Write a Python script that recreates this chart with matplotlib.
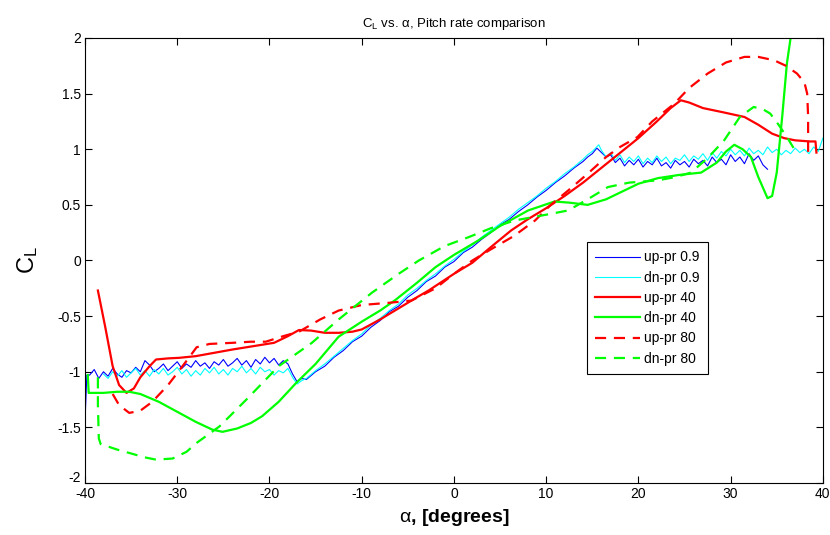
import numpy as np
import matplotlib
matplotlib.use('Agg')
import matplotlib.pyplot as plt
import matplotlib.transforms as mtransforms

plt.rcParams['font.family'] = ['Liberation Sans', 'DejaVu Sans']
plt.rcParams['axes.unicode_minus'] = False
plt.rcParams['mathtext.fontset'] = 'custom'
plt.rcParams['mathtext.rm'] = 'Liberation Sans'
plt.rcParams['mathtext.it'] = 'Liberation Sans'

# ---- up-pr 0.9 (blue) ----
blue_start_x = [-40.0, -39.8]
blue_start_y = [-1.45, -1.03]
blue_left_x = np.arange(-39.5, -17.75, 0.5)
blue_left_y = [-1.03, -0.98, -1.06, -1.00, -1.04, -0.97, -1.02, -1.05, -0.99, -1.01,
               -0.96, -1.00, -0.90, -0.94, -1.00, -0.97, -0.93, -0.99, -0.95, -0.91,
               -0.97, -0.93, -0.96, -0.90, -0.95, -0.92, -0.97, -0.91, -0.94, -0.89,
               -0.95, -0.92, -0.88, -0.94, -0.90, -0.96, -0.89, -0.93, -0.87, -0.92,
               -0.88, -0.94, -0.90, -0.93]
blue_mid_x = [-17.5, -17, -16.5, -16, -15, -14, -13, -12, -11, -10, -9, -8, -7, -6, -5, -4,
              -3, -2, -1, 0, 1, 2, 3, 4, 5, 6, 7, 8, 9, 10, 11, 12, 13, 14, 14.5, 15, 15.5,
              16, 16.5, 17]
blue_mid_y = [-1.02, -1.09, -1.06, -1.07, -1.00, -0.95, -0.87, -0.81, -0.73, -0.68, -0.60,
              -0.54, -0.46, -0.41, -0.33, -0.27, -0.19, -0.14, -0.06, -0.01, 0.07, 0.12,
              0.19, 0.25, 0.32, 0.37, 0.44, 0.50, 0.57, 0.63, 0.70, 0.76, 0.83, 0.89, 0.93,
              0.96, 1.01, 0.97, 0.93, 0.95]
blue_right_x = np.arange(17.5, 34.25, 0.5)
blue_right_y = [0.88, 0.92, 0.85, 0.90, 0.86, 0.91, 0.84, 0.89, 0.86, 0.92,
                0.85, 0.88, 0.83, 0.90, 0.86, 0.89, 0.84, 0.91, 0.87, 0.90,
                0.85, 0.93, 0.88, 0.91, 0.86, 0.95, 0.89, 0.93, 0.87, 0.96,
                0.90, 0.94, 0.86, 0.82]

# ---- dn-pr 0.9 (cyan) ----
cyan_left_x = np.arange(-38.0, -17.75, 0.5)
cyan_left_y = [-1.02, -1.06, -1.00, -1.04, -0.99, -1.05, -1.01, -0.97, -1.03, -0.99,
               -1.04, -0.98, -1.02, -0.97, -1.03, -1.00, -0.96, -1.02, -0.98, -1.04,
               -0.99, -1.03, -0.97, -1.01, -0.96, -1.02, -0.98, -1.03, -0.97, -1.00,
               -0.95, -1.01, -0.97, -1.02, -0.96, -1.00, -0.98, -1.03, -0.99, -1.01,
               -0.97]
cyan_mid_x = [-17.5, -17, -16.5, -16, -15, -14, -13, -12, -11, -10, -9, -8, -7, -6, -5, -4,
              -3, -2, -1, 0, 1, 2, 3, 4, 5, 6, 7, 8, 9, 10, 11, 12, 13, 14, 14.5, 15, 15.7]
cyan_mid_y = [-1.05, -1.11, -1.08, -1.06, -0.99, -0.93, -0.86, -0.79, -0.72, -0.66, -0.58,
              -0.52, -0.45, -0.39, -0.31, -0.25, -0.18, -0.12, -0.05, 0.01, 0.08, 0.14,
              0.21, 0.27, 0.33, 0.39, 0.46, 0.52, 0.58, 0.65, 0.71, 0.78, 0.84, 0.91, 0.95,
              0.98, 1.04]
cyan_right_x = np.arange(16.0, 40.25, 0.5)
cyan_right_y = [0.99, 0.93, 0.97, 0.90, 0.95, 0.88, 0.93, 0.89, 0.94, 0.87,
                0.92, 0.88, 0.94, 0.89, 0.93, 0.87, 0.92, 0.90, 0.95, 0.89,
                0.94, 0.91, 0.96, 0.90, 0.97, 0.92, 0.98, 0.94, 1.00, 0.95,
                0.99, 0.94, 1.01, 0.96, 0.99, 0.95, 1.02, 0.97, 1.00, 0.95,
                0.99, 0.96, 1.01, 0.97, 1.00, 0.96, 1.02, 0.98, 1.10]

# ---- up-pr 40 (red solid) ----
up40_x = [-38.6, -37.8, -37.0, -36.3, -35.5, -34.7, -34.0, -33.0, -32.3, -31.0, -29.8, -28.0,
          -26.0, -24.0, -22.5, -21.0, -19.5, -18.0, -16.8, -15.5, -14.0, -12.5, -11.0, -10.0,
          -8.0, -6.0, -4.0, -2.75, 0.0, 2.0, 4.0, 6.2, 8.0, 10.0, 12.0, 14.0, 16.7, 18.5,
          20.0, 22.0, 23.5, 24.6, 25.5, 27.0, 29.3, 31.5, 33.0, 34.5, 35.8, 37.0, 38.6, 39.2,
          39.3]
up40_y = [-0.27, -0.60, -0.95, -1.12, -1.19, -1.15, -1.05, -0.95, -0.89, -0.88, -0.875, -0.86,
          -0.83, -0.80, -0.78, -0.76, -0.74, -0.68, -0.625, -0.63, -0.65, -0.65, -0.64, -0.62,
          -0.53, -0.43, -0.33, -0.27, -0.12, -0.02, 0.12, 0.27, 0.37, 0.47, 0.58, 0.70, 0.88,
          1.00, 1.10, 1.25, 1.37, 1.44, 1.42, 1.37, 1.33, 1.29, 1.22, 1.14, 1.10, 1.08, 1.07,
          1.07, 0.97]

# ---- dn-pr 40 (green solid) ----
dn40_x = [-39.7, -39.6, -38.0, -36.5, -35.2, -34.0, -32.0, -30.0, -28.0, -26.2, -25.1, -23.5,
          -22.0, -20.8, -19.0, -17.1, -15.0, -12.5, -10.0, -8.0, -6.35, -4.0, -2.0, 0.0, 2.65,
          5.0, 8.05, 10.9, 12.5, 14.5, 16.5, 18.5, 20.0, 22.1, 24.5, 26.8, 28.5, 29.5, 30.4,
          31.3, 32.2, 33.0, 34.0, 34.5, 35.0, 35.6, 36.1, 36.5, 37.0]
dn40_y = [-1.03, -1.19, -1.19, -1.18, -1.18, -1.20, -1.27, -1.36, -1.45, -1.52, -1.54, -1.51,
          -1.46, -1.40, -1.27, -1.10, -0.93, -0.685, -0.55, -0.45, -0.355, -0.20, -0.06, 0.05,
          0.18, 0.31, 0.45, 0.53, 0.52, 0.50, 0.55, 0.63, 0.69, 0.74, 0.77, 0.79, 0.88, 0.98,
          1.04, 1.00, 0.93, 0.75, 0.56, 0.58, 0.79, 1.30, 1.77, 2.00, 2.40]

# ---- up-pr 80 (red dashed) ----
up80_x = [-37.0, -36.3, -35.2, -34.0, -32.7, -31.0, -29.7, -28.7, -27.9, -26.5, -24.0, -22.0,
          -20.4, -18.5, -16.8, -14.5, -12.5, -10.0, -7.0, -4.6, -2.0, 0.0, 2.0, 4.0, 6.5, 8.8,
          10.5, 12.4, 14.5, 16.5, 18.0, 19.9, 21.5, 23.9, 25.5, 27.5, 29.5, 31.5, 33.0, 34.7,
          36.0, 37.2, 38.0, 38.3, 38.4, 38.4]
up80_y = [-1.20, -1.30, -1.37, -1.35, -1.27, -1.12, -0.98, -0.87, -0.78, -0.75, -0.74, -0.73,
          -0.73, -0.68, -0.64, -0.53, -0.45, -0.40, -0.38, -0.36, -0.25, -0.12, 0.00, 0.10,
          0.22, 0.36, 0.50, 0.63, 0.78, 0.93, 1.02, 1.11, 1.25, 1.41, 1.55, 1.68, 1.78, 1.83,
          1.83, 1.80, 1.75, 1.68, 1.60, 1.50, 1.30, 0.95]

# ---- dn-pr 80 (green dashed) ----
dn80_x = [-38.6, -38.6, -38.5, -38.3, -36.5, -35.2, -33.5, -32.3, -30.5, -29.0, -27.9, -25.4,
          -22.5, -19.0, -15.4, -12.5, -8.9, -6.0, -3.8, -1.0, 1.6, 4.0, 6.6, 9.9, 12.4, 14.5,
          16.7, 19.0, 22.1, 24.0, 25.7, 27.5, 29.3, 31.0, 32.5, 33.5, 34.3, 35.2, 36.1, 37.2]
dn80_y = [-1.05, -1.30, -1.60, -1.65, -1.70, -1.73, -1.77, -1.79, -1.78, -1.72, -1.64, -1.49,
          -1.25, -0.95, -0.74, -0.53, -0.29, -0.12, 0.00, 0.13, 0.21, 0.29, 0.36, 0.41, 0.45,
          0.55, 0.66, 0.70, 0.72, 0.75, 0.79, 0.92, 1.08, 1.29, 1.38, 1.36, 1.32, 1.22, 1.11,
          0.96]

blue_x = np.concatenate([blue_start_x, blue_left_x, blue_mid_x, blue_right_x])
blue_y = np.concatenate([blue_start_y, blue_left_y, blue_mid_y, blue_right_y])
cyan_x = np.concatenate([cyan_left_x, cyan_mid_x, cyan_right_x])
cyan_y = np.concatenate([cyan_left_y, cyan_mid_y, cyan_right_y])

fig = plt.figure(figsize=(8.3, 5.35), dpi=100)
ax = fig.add_axes([0.1024, 0.0972, 0.889, 0.8318])

ax.plot(blue_x, blue_y, color='#0000ff', lw=0.8, label='up-pr 0.9')
ax.plot(cyan_x, cyan_y, color='#00ffff', lw=0.8, label='dn-pr 0.9')
ax.plot(up40_x, up40_y, color='#ff0000', lw=1.6, label='up-pr 40')
ax.plot(dn40_x, dn40_y, color='#00ff00', lw=1.6, label='dn-pr 40')
ax.plot(up80_x, up80_y, color='#ff0000', lw=1.6, ls=(0, (5, 3.5)), label='up-pr 80')
ax.plot(dn80_x, dn80_y, color='#00ff00', lw=1.6, ls=(0, (5, 3.5)), label='dn-pr 80')

ax.set_xlim(-40, 40)
ax.set_ylim(-2, 2)
ax.set_xticks(np.arange(-40, 41, 10))
ax.set_yticks(np.arange(-2, 2.01, 0.5))
ax.set_yticklabels(['-2', '-1.5', '-1', '-0.5', '0', '0.5', '1', '1.5', '2'])
ax.tick_params(direction='in', length=5, width=0.8, top=True, right=True,
               labelsize=10, pad=3, colors='black')
for s in ax.spines.values():
    s.set_linewidth(0.8)

# lift the bottom "-2" label a little, like MATLAB does
lbl = ax.get_yticklabels()[0]
lbl.set_transform(lbl.get_transform() +
                  mtransforms.ScaledTranslation(0, 5 / 72, fig.dpi_scale_trans))

ax.set_title('C$_\\mathregular{L}$ vs. $\\alpha$, Pitch rate comparison', fontsize=9.5, pad=8)
ax.set_xlabel('$\\alpha$, [degrees]', fontsize=14, fontweight='bold', labelpad=4)
ax.set_ylabel('C$_\\mathregular{L}$', fontsize=17, labelpad=12, rotation=90)

leg = ax.legend(loc='upper left', bbox_to_anchor=(0.671, 0.557), fontsize=10,
                frameon=True, fancybox=False, edgecolor='black', framealpha=1,
                handlelength=3.2, borderpad=0.6, labelspacing=0.45, handletextpad=0.3)
leg.get_frame().set_linewidth(0.8)

fig.savefig('out.png', dpi=100)
